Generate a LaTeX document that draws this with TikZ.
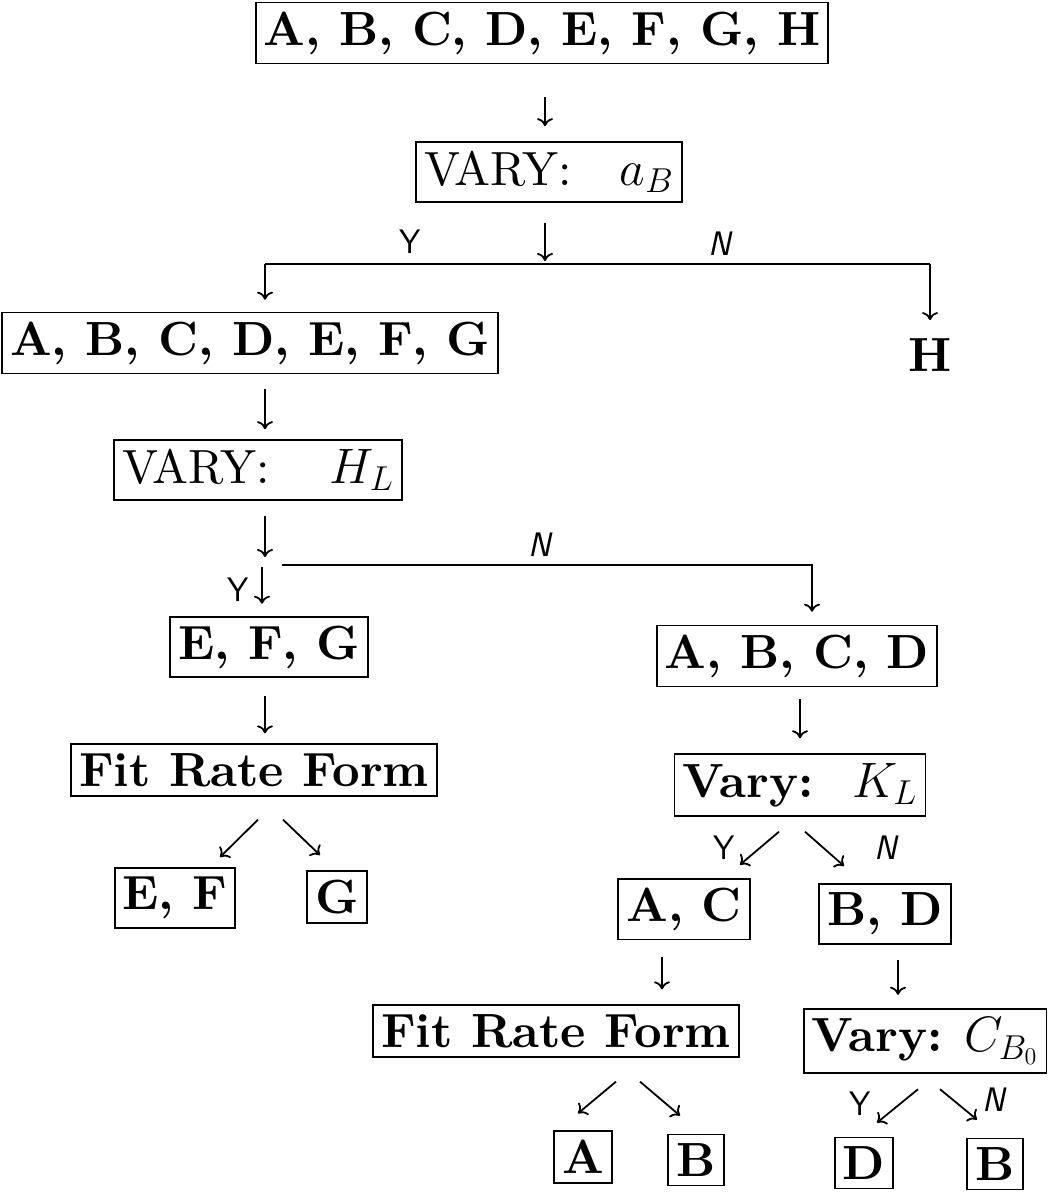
\documentclass[tikz,border=0pt]{standalone}
\usepackage{fontspec}
\setmainfont{lmroman10-regular.otf}[BoldFont=lmroman10-bold.otf, ItalicFont=lmroman10-italic.otf]
\usetikzlibrary{calc,arrows.meta}
\begin{document}
\begin{tikzpicture}[x=0.5pt,y=-0.5pt,
  box/.style={draw, line width=0.9pt, inner xsep=4pt, inner ysep=4.5pt, font=\fontsize{24}{28}\selectfont},
  bbox/.style={box, font=\fontsize{24}{28}\selectfont\bfseries},
  plain/.style={inner xsep=4pt, inner ysep=4pt, font=\fontsize{24}{28}\selectfont\bfseries},
  arr/.style={line width=0.9pt, -{To[length=4pt,width=8pt]}},
  ln/.style={line width=0.9pt},
  ylbl/.style={inner sep=0pt, font=\fontsize{17}{20}\selectfont\sffamily},
  nlbl/.style={inner sep=0pt, font=\fontsize{17}{20}\selectfont\sffamily\itshape}]
\useasboundingbox (0,0) rectangle (1049,1192);

% nodes
\node[bbox] (top) at (542,33) {A, B, C, D, E, F, G, H};
\node[box] (vab) at (549,172) {VARY:\hspace{1em}$a_B$};
\node[bbox] (abcdefg) at (250,343) {A, B, C, D, E, F, G};
\node[plain] (h) at (930,355) {H};
\node[box] (vhl) at (258,470) {VARY:\hspace{1.25em}$H_L$};
\node[bbox] (efg) at (269,647) {E, F, G};
\node[bbox] (abcd) at (797,656) {A, B, C, D};
\node[bbox] (fit1) at (254,770) {Fit Rate Form};
\node[box] (vkl) at (800,785) {\textbf{Vary:}\hspace{0.8em}$K_L$};
\node[bbox] (ef) at (175,898) {E, F};
\node[bbox] (g) at (337,897) {G};
\node[bbox] (ac) at (684,909) {A, C};
\node[bbox] (bd) at (885,914) {B, D};
\node[bbox] (fit2) at (556,1031) {Fit Rate Form};
\node[box] (vcb) at (925,1041) {\textbf{Vary:} $C_{B_0}$};
\node[bbox] (a) at (583,1157) {A};
\node[bbox] (b1) at (696,1160) {B};
\node[bbox] (d) at (864,1163) {D};
\node[bbox] (b2) at (995,1164) {B};

% branch points
\coordinate (s1) at (545,264);
\coordinate (sL) at (265,264);
\coordinate (sR) at (930,264);
\coordinate (s2) at (265,557);
\coordinate (s2a) at (282,565);
\coordinate (s2b) at (812,565);

% labels
\node[ylbl] (y1) at (410,242) {Y};
\node[nlbl] (n1) at (720,244) {N};
\node[nlbl] (n2) at (540,545) {N};
\node[ylbl] (y2) at (238,590) {Y};
\node[ylbl] (y3) at (724,848) {Y};
\node[nlbl] (n3) at (886,848) {N};
\node[ylbl] (y4) at (860,1104) {Y};
\node[nlbl] (n4) at (994,1100) {N};

% connectors
\draw[arr] ($(top.south)+(3,33)$) -- ($(vab.north)+(-4,-15)$);
\draw[arr] ($(vab.south)+(-4,20)$) -- ($(s1)+(0,-3)$);
\draw[ln] (sL) -- (sR);
\draw[arr] (sL) -- ($(abcdefg.north -| sL)+(0,-12)$);
\draw[arr] (sR) -- ($(h.north)+(0,-10)$);

\draw[arr] ($(abcdefg.south)+(15,15)$) -- ($(vhl.north)+(7,-10)$);
\draw[arr] ($(vhl.south)+(7,15)$) -- (s2);
\draw[arr] (s2a) -- (s2b) -- ($(abcd.north -| s2b)+(0,-13)$);
\draw[arr] ($(s2)+(-3,10)$) -- ($(efg.north)+(-7,-12)$);

\draw[arr] ($(efg.south)+(-4,18)$) -- ($(fit1.north)+(11,-10)$);
\draw[arr] ($(abcd.south)+(3,12)$) -- ($(vkl.north)+(0,-15)$);

\draw[arr] ($(fit1.south)+(4,23)$) -- ($(ef.north)+(45,-10)$);
\draw[arr] ($(fit1.south)+(29,23)$) -- ($(g.north)+(-17,-15)$);

\draw[arr] ($(vkl.south)+(-21,15)$) -- ($(ac.north)+(56,-13)$);
\draw[arr] ($(vkl.south)+(5,15)$) -- ($(bd.north)+(-41,-17)$);

\draw[arr] ($(ac.south)+(-22,17)$) -- ($(fit2.north)+(106,-15)$);
\draw[arr] ($(bd.south)+(13,15)$) -- ($(vcb.north)+(-27,-13)$);

\draw[arr] ($(fit2.south)+(60,24)$) -- ($(a.north)+(-5,-17)$);
\draw[arr] ($(fit2.south)+(84,24)$) -- ($(b1.north)+(-16,-18)$);

\draw[arr] ($(vcb.south)+(-7,15)$) -- ($(d.north)+(13,-14)$);
\draw[arr] ($(vcb.south)+(15,15)$) -- ($(b2.north)+(-18,-18)$);
\end{tikzpicture}
\end{document}
